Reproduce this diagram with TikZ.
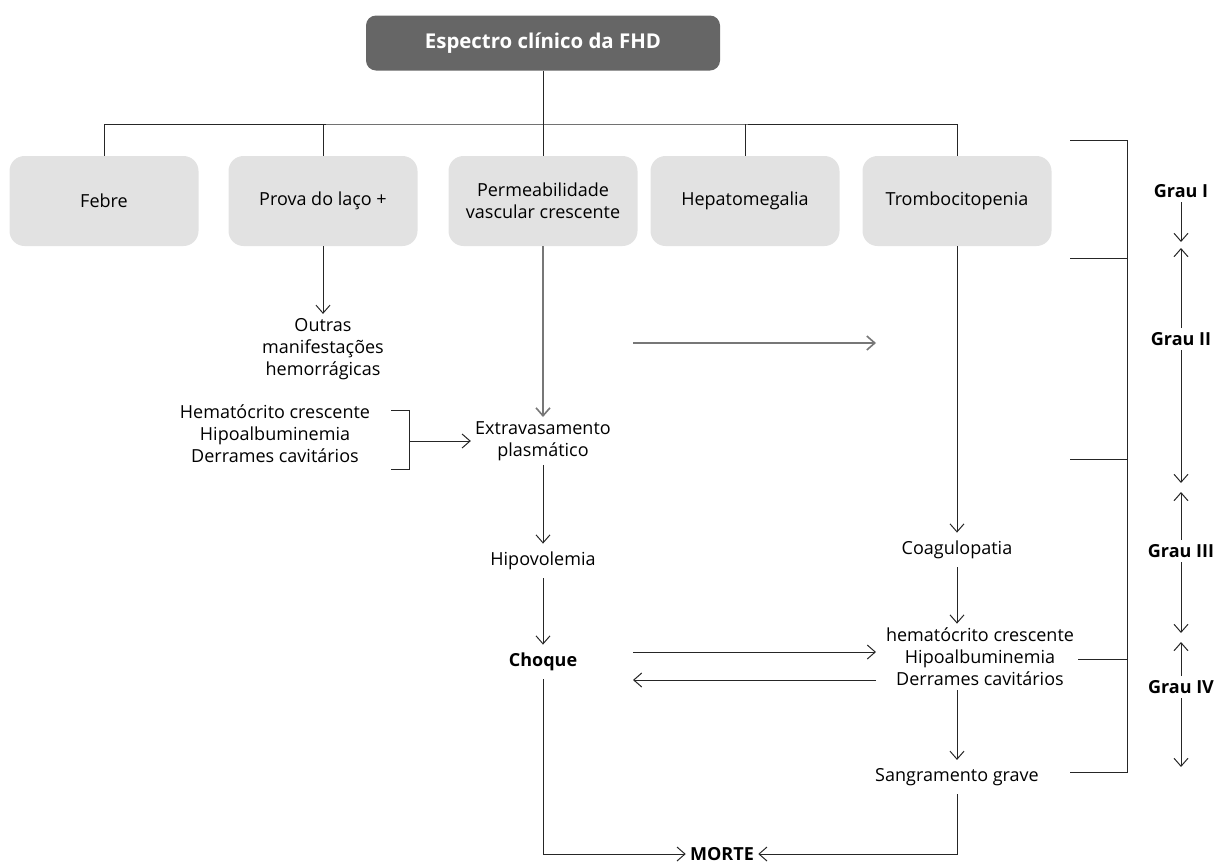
\documentclass[tikz,border=0pt]{standalone}
\usepackage{fontspec}
\setmainfont{Open Sans}
\definecolor{HEADgray}{HTML}{666666}
\definecolor{BOXgray}{HTML}{E2E2E2}
\definecolor{LINEgray}{HTML}{777777}
\usetikzlibrary{arrows.meta,calc,positioning}

\begin{document}
\begin{tikzpicture}[
  x=0.5pt,y=-0.5pt,
  font=\fontsize{9}{11}\selectfont,
  head/.style={fill=HEADgray,rounded corners=5pt,text=white,font=\fontsize{10.2}{12}\selectfont\bfseries,minimum width=177pt,minimum height=27.5pt},
  box/.style={fill=BOXgray,rounded corners=7.5pt,align=center,minimum width=94.5pt,minimum height=45pt},
  txt/.style={align=center,inner sep=2pt},
  bold/.style={txt,font=\fontsize{9}{11}\selectfont\bfseries},
  line/.style={line width=0.5pt,black!85},
  grayline/.style={line width=0.8pt,LINEgray},
  arr/.style={line,-{Straight Barb[length=4pt,width=7pt]}}
]
\useasboundingbox (0,0) rectangle (1216,863);

% title and first row
\node[head] (spec) at (543,43) {Espectro clínico da FHD};
\node[box] (febre) at (104,201) {Febre};
\node[box] (prova) at (323,201) {Prova do laço +};
\node[box] (perm) at (543,201) {Permeabilidade\\vascular crescente};
\node[box] (hepato) at (745,201) {Hepatomegalia};
\node[box] (tromb) at (957,201) {Trombocitopenia};
\coordinate (bus) at (543,124);

% left column
\node[txt] (outras) at (323,349) {Outras\\manifestações\\hemorrágicas};
\node[txt] (lista) at (275,434) {Hematócrito crescente\\Hipoalbuminemia\\Derrames cavitários};
\node[txt] (extrav) at (543,441) {Extravasamento\\plasmático};
\node[txt,inner sep=4pt] (hipo) at (543,561) {Hipovolemia};
\node[bold,inner sep=4pt] (choque) at (543,662) {Choque};
\node[bold] (morte) at (722,854) {MORTE};

% right column
\node[txt,inner sep=4pt] (coag) at (957,550) {Coagulopatia};
\node[txt] (lista2) at (980,657) {hematócrito crescente\\Hipoalbuminemia\\Derrames cavitários};
\node[txt,inner sep=4pt] (sang) at (957,777) {Sangramento grave};

% graus
\node[bold] (g1) at (1181,191) {Grau I};
\node[bold] (g2) at (1181,339) {Grau II};
\node[bold] (g3) at (1181,551) {Grau III};
\node[bold] (g4) at (1181,687) {Grau IV};

% tree
\draw[line] (spec) -- (bus);
\draw[line] (febre.north) |- (bus) -| (tromb.north);
\foreach \n in {prova,perm,hepato}
  \draw[line] (\n.north) -- (\n.north |- bus);

% flow
\draw[arr] (prova) -- (outras);
\draw[arr,grayline] (perm) -- (extrav);
\draw[arr] (extrav) -- (hipo);
\draw[arr] (hipo) -- (choque);
\draw[arr] (tromb) -- (coag);
\draw[arr] (coag.south) -- (coag.south |- lista2.north);
\draw[arr] (coag.south |- lista2.south) -- (sang);
\draw[arr] (choque) |- (morte);
\draw[arr] (sang) |- (morte);

% left bracket
\coordinate (bt) at (409,410);
\coordinate (bb) at (409,469);
\draw[line] ($(bt)+(-18,0)$) -- (bt) -- (bb) -- ($(bb)+(-18,0)$);
\draw[arr] (bt |- extrav) -- (extrav);

% cross arrows
\coordinate (pa) at (633,343);
\coordinate (pb) at (876,343);
\draw[arr,grayline] (pa) -- (pb);
\coordinate (ca) at (633,652);
\coordinate (cb) at (876,652);
\coordinate (cc) at (633,680);
\coordinate (cd) at (876,680);
\draw[arr] (ca) -- (cb);
\draw[arr] (cd) -- (cc);

% grade bracket
\coordinate (r1) at (1127,140);
\coordinate (r2) at (1127,258);
\coordinate (r3) at (1127,459);
\coordinate (r4) at (1127,659);
\coordinate (r5) at (1127,772);
\draw[line] ($(r1)+(-57,0)$) -- (r1) -- (r5) -- ($(r5)+(-57,0)$);
\draw[line] ($(r2)+(-57,0)$) -- (r2);
\draw[line] ($(r3)+(-57,0)$) -- (r3);
\draw[line] (lista2.east |- r4) -- (r4);

% grade arrows
\draw[arr] (g1) -- (1181,242);
\draw[arr] (g2) -- (1181,248);
\draw[arr] (g2) -- (1181,483);
\draw[arr] (g3) -- (1181,492);
\draw[arr] (g3) -- (1181,633);
\draw[arr] (g4) -- (1181,642);
\draw[arr] (g4) -- (1181,767);
\end{tikzpicture}
\end{document}
